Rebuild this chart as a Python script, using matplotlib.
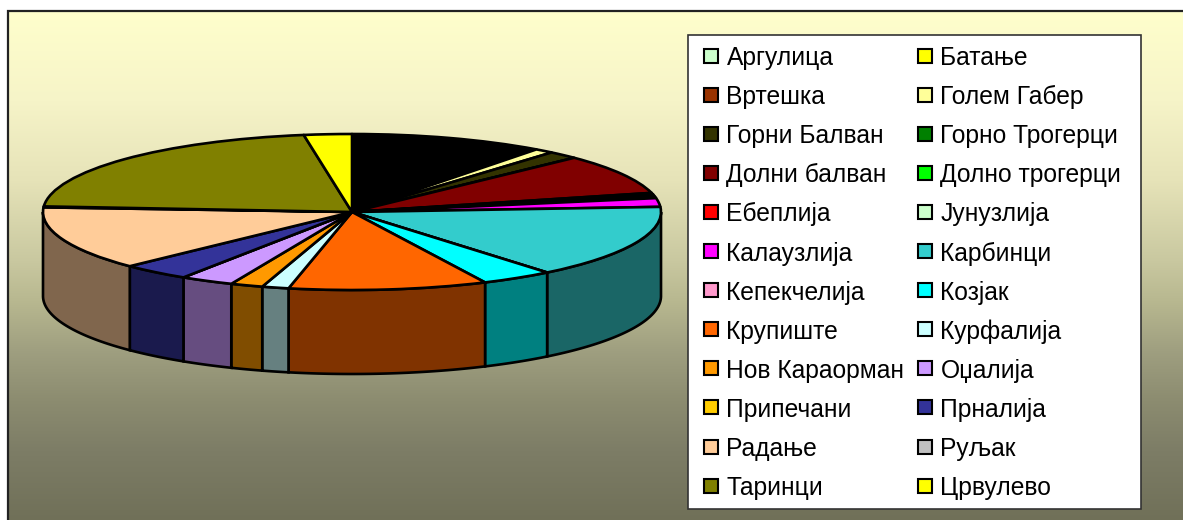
import numpy as np
import matplotlib
matplotlib.use("Agg")
import matplotlib.pyplot as plt
from matplotlib.colors import to_rgb
from matplotlib.patches import Rectangle

plt.rcParams['font.family'] = ['Liberation Sans', 'DejaVu Sans']

names = ["Аргулица", "Батање", "Вртешка", "Голем Габер", "Горни Балван", "Горно Трогерци",
         "Долни балван", "Долно трогерци", "Ебеплија", "Јунузлија", "Калаузлија", "Карбинци",
         "Кепекчелија", "Козјак", "Крупиште", "Курфалија", "Нов Караорман", "Оџалија",
         "Припечани", "Прналија", "Радање", "Руљак", "Таринци", "Црвулево"]
# share of each village in percent
values = [10.2, 0, 0, 1.0, 1.6, 0,
          8.3, 0.4, 0.4, 0.3, 1.8, 15.2,
          0, 3.8, 10.4, 1.4, 1.7, 2.8,
          0, 3.6, 13.2, 0.2, 21.4, 2.5]
colors = ["#CCFFCC", "#FFFF00", "#993300", "#FFFF99", "#333300", "#008000",
          "#800000", "#00FF00", "#FF0000", "#CCFFCC", "#FF00FF", "#33CCCC",
          "#FF99CC", "#00FFFF", "#FF6600", "#CCFFFF", "#FF9900", "#CC99FF",
          "#FFCC00", "#333399", "#FFCC99", "#C0C0C0", "#808000", "#FFFF00"]
# the first slice is black in the pie although its key is pale green
pie_colors = ["#000000"] + colors[1:]

# background colour at some heights of the page
grad_y = [10, 100, 180, 260, 300, 350, 400, 450, 520]
grad_col = ["#FFFFCC", "#F6F4C8", "#E6E3B8", "#C9C8A0", "#B8B890", "#9F9F80", "#8C8C70", "#7D7D66", "#707058"]

W, H = 1183, 520
cx, cy, rx, ry, depth = 352, 212, 309, 78, 84
lw = 1.9

fig = plt.figure(figsize=(W / 100, H / 100), dpi=100, facecolor="white")

# page axes in pixel coordinates for background and legend
page = fig.add_axes([0, 0, 1, 1])
page.set_xlim(0, W)
page.set_ylim(H, 0)
page.axis("off")

rows = np.arange(10, H)
rgb = np.array([to_rgb(c) for c in grad_col])
grad = np.stack([np.interp(rows, grad_y, rgb[:, i]) for i in range(3)], axis=1).reshape(-1, 1, 3)
page.imshow(grad, extent=[8, W, H, 10], aspect="auto", zorder=0)
page.set_xlim(0, W)
page.set_ylim(H, 0)
page.plot([8, 8, W], [H, 10.5, 10.5], color="#222222", lw=1.6, zorder=1, solid_joinstyle="miter")

# legend box
page.add_patch(Rectangle((688, 35), 453, 474, fc="white", ec="#333333", lw=1.2, zorder=2))
for i, (name, col) in enumerate(zip(names, colors)):
    row, column = i // 2, i % 2
    y = 55.5 + row * 39.1
    x = 704 + column * 214
    page.add_patch(Rectangle((x, y - 7), 14, 14, fc=col, ec="black", lw=1.5, zorder=3))
    page.text(x + 22.5, y, name, fontsize=17.7, va="center_baseline", ha="left", color="black", zorder=3)

# pie axes: the unit circle is stretched to the ellipse on screen
ax = fig.add_axes([(cx - rx) / W, 1 - (cy + ry + depth + 4) / H, 2 * rx / W, (2 * ry + depth + 4) / H])
ax.patch.set_alpha(0)
k = depth / ry
wedges, _ = ax.pie(values, colors=pie_colors, startangle=90, counterclock=False, radius=1,
                   wedgeprops=dict(edgecolor="black", linewidth=lw, joinstyle="round"))
ax.set_aspect("auto")
ax.set_xlim(-1, 1)
ax.set_ylim(-1 - k - 4 / ry, 1)

# side wall, only the front half of the disc is seen
edges = np.concatenate([[0], np.cumsum(values)]) / np.sum(values) * 360
for start, end, col in zip(edges[:-1], edges[1:], pie_colors):
    a, b = max(start, 90), min(end, 270)
    if b <= a:
        continue
    th = np.radians(np.linspace(a, b, 60))
    xs, ys = np.sin(th), np.cos(th)
    ax.fill(np.r_[xs, xs[::-1]], np.r_[ys, ys[::-1] - k],
            fc=np.array(to_rgb(col)) * 0.5, ec="black", lw=lw, zorder=0.5, clip_on=False)

fig.savefig("out.png", dpi=100)
